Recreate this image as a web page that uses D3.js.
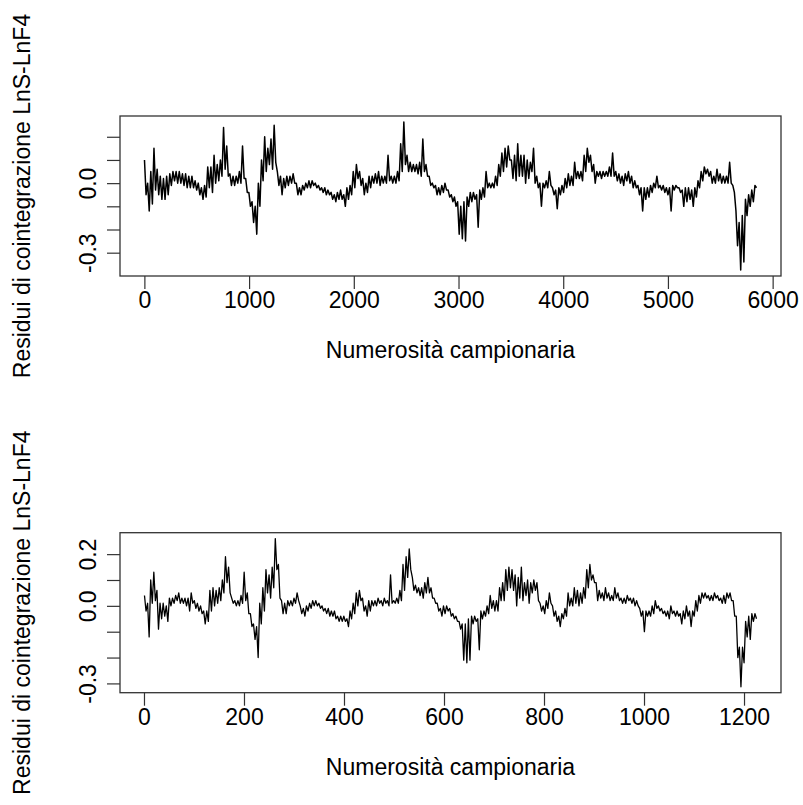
<!DOCTYPE html>
<html><head><meta charset="utf-8">
<script src="https://cdn.jsdelivr.net/npm/d3@7"></script>
<style>body{margin:0;background:#fff} svg{display:block}</style>
</head><body>
<script>
// ---------------- DATA ----------------
const topN = 5846;
const topValues = [
0.10,-0.05, 0.00,-0.12, 0.05,-0.09, 0.15,-0.03, 0.06,-0.05, 0.03,-0.07, 0.02,-0.07, 0.03,-0.05, 0.04,-0.01, 0.05,0.01,
0.05,0.00, 0.05,0.00, 0.04,-0.01, 0.04,-0.02, 0.03,-0.02, 0.03,-0.02, 0.01,-0.03, 0.00,-0.05, -0.02,-0.07, -0.01,-0.06,
0.07,-0.02, 0.07,-0.04, 0.12,0.00, 0.08,0.01, 0.10,0.03, 0.24,0.06, 0.16,0.03, 0.04,-0.01, 0.03,-0.01, 0.03,0.00,
0.05,0.00, 0.16,0.02, 0.02,-0.04, -0.04,-0.10, -0.08,-0.17, -0.10,-0.22, 0.00,-0.10, 0.10,0.01, 0.20,0.05, 0.15,0.08,
0.19,0.06, 0.25,0.09, 0.05,-0.01, 0.03,-0.05, 0.02,-0.02, 0.03,-0.01, 0.03,0.00, 0.04,0.00, 0.00,-0.05, -0.02,-0.05,
-0.01,-0.03, 0.00,-0.02, 0.01,-0.02, 0.01,-0.01, 0.00,-0.02, -0.01,-0.03, -0.02,-0.04, -0.02,-0.05, -0.03,-0.05, -0.04,-0.07,
-0.05,-0.08, -0.04,-0.07, -0.03,-0.07, -0.05,-0.10, -0.02,-0.07, -0.01,-0.05, 0.05,-0.02, 0.08,0.02, 0.05,-0.01, 0.02,-0.05,
0.00,-0.04, 0.03,-0.02, 0.03,0.00, 0.04,0.00, 0.05,-0.01, 0.03,0.00, 0.03,0.00, 0.12,0.01, 0.03,0.00, 0.03,0.00,
0.05,0.01, 0.17,0.05, 0.264,0.08, 0.12,0.05, 0.09,0.05, 0.08,0.05, 0.08,0.04, 0.09,0.03, 0.19,0.05, 0.08,0.03,
0.03,-0.01, 0.00,-0.02, -0.01,-0.05, -0.02,-0.05, -0.01,-0.04, 0.00,-0.03, -0.03,-0.06, -0.05,-0.08, -0.06,-0.10, -0.08,-0.22,
-0.10,-0.24,
-0.08,-0.25, -0.06,-0.10, -0.04,-0.08, -0.04,-0.07, -0.05,-0.19, -0.03,-0.07, -0.02,-0.06, 0.05,-0.02, 0.00,-0.02, 0.00,-0.02,
0.03,-0.01, 0.08,0.03, 0.13,0.05, 0.15,0.07, 0.16,0.10, 0.10,0.02, 0.12,0.01, 0.17,0.03, 0.12,0.03, 0.12,0.00,
0.10,0.02, 0.09,0.05, 0.15,0.00, 0.03,-0.02, 0.00,-0.10, 0.00,-0.02, 0.01,-0.02, 0.05,-0.01, -0.02,-0.05, -0.03,-0.11,
-0.02,-0.05, -0.01,-0.04, 0.02,-0.02, 0.04,-0.01, 0.03,-0.01, 0.09,0.02, 0.05,0.02, 0.05,0.01, 0.12,0.05, 0.15,0.09,
0.12,0.05, 0.08,0.00, 0.05,0.03, 0.05,0.02, 0.05,0.03, 0.05,0.03, 0.07,0.03, 0.13,0.03, 0.05,0.01, 0.04,0.00,
0.03,-0.01, 0.04,0.01, 0.05,0.00, 0.03,-0.02, 0.01,-0.02, -0.01,-0.05, -0.02,-0.12, -0.02,-0.07, -0.02,-0.06, -0.01,-0.04,
0.00,-0.02, 0.03,-0.02, -0.01,-0.03, -0.01,-0.04, -0.02,-0.05, -0.02,-0.12, -0.01,-0.03, -0.01,-0.02, -0.02,-0.04, -0.03,-0.10,
-0.02,-0.08, -0.02,-0.07, -0.03,-0.10, -0.02,-0.06, 0.01,-0.02, 0.05,0.01, 0.07,0.04, 0.06,0.03, 0.05,0.00, 0.03,0.00,
0.06,0.01, 0.04,0.00, 0.03,0.00, 0.03,0.00, 0.09,0.00, -0.01,-0.04, -0.12,-0.27, -0.17,-0.375, -0.14,-0.34, -0.07,-0.14,
-0.05,-0.10, -0.03,-0.08, -0.01,-0.02
];
const bottomN = 1225;
const bottomValues = [
0.04,-0.02, 0.01,-0.12, 0.10,0.01, 0.13,0.02, 0.06,-0.09, 0.01,-0.05, 0.01,-0.04, 0.00,-0.06, 0.03,0.00, 0.03,0.01,
0.04,0.02, 0.05,0.01, 0.03,0.01, 0.03,0.00, 0.03,-0.02, 0.05,0.01, 0.02,-0.01, 0.01,-0.02, 0.00,-0.03, -0.02,-0.07,
-0.02,-0.06, 0.06,-0.02, 0.07,0.00, 0.06,0.01, 0.07,0.02, 0.10,0.05, 0.19,0.09, 0.15,0.05, 0.03,0.01, 0.02,0.00,
0.02,0.00, 0.04,0.01, 0.13,0.02, 0.05,-0.03, -0.03,-0.08, -0.07,-0.13, -0.08,-0.20, 0.01,-0.07, 0.07,-0.02, 0.14,0.05,
0.12,0.03, 0.15,0.07, 0.26,0.14, 0.16,0.03, 0.02,-0.03, 0.01,-0.03, 0.02,0.00, 0.02,0.00, 0.03,0.01, 0.05,0.02,
0.00,-0.03, -0.01,-0.04, 0.00,-0.02, 0.01,-0.01, 0.02,0.00, 0.02,0.00, 0.01,-0.01, 0.00,-0.02, -0.01,-0.03, -0.01,-0.04,
-0.02,-0.04, -0.02,-0.05, -0.04,-0.06, -0.04,-0.06, -0.04,-0.06, -0.05,-0.08, -0.02,-0.05, 0.01,-0.03, 0.05,0.00, 0.06,0.02,
0.03,-0.02, 0.00,-0.04, 0.02,-0.02, 0.02,0.00, 0.02,0.00, 0.03,0.01, 0.02,0.00, 0.03,0.01, 0.02,0.00, 0.12,0.01,
0.02,0.01, 0.03,0.01, 0.06,0.02, 0.16,0.06, 0.19,0.11, 0.22,0.14, 0.11,0.06, 0.08,0.05, 0.07,0.04, 0.07,0.03,
0.09,0.05, 0.11,0.05, 0.07,0.03, 0.03,0.01, 0.01,-0.02, -0.01,-0.04, 0.00,-0.03, 0.00,-0.02, -0.01,-0.04, -0.03,-0.05,
-0.04,-0.06, -0.06,-0.09, -0.07,-0.21,
-0.07,-0.22, -0.05,-0.21, -0.04,-0.07, -0.04,-0.06, -0.05,-0.17, -0.02,-0.05, -0.02,-0.04, 0.00,-0.03, 0.04,-0.01, 0.02,-0.02,
0.02,-0.02, 0.07,0.02, 0.09,0.02, 0.14,0.06, 0.15,0.07, 0.14,0.06, 0.12,0.00, 0.11,0.03, 0.15,0.02, 0.09,0.04,
0.10,0.01, 0.09,0.05, 0.10,0.06, 0.09,0.02, 0.01,-0.02, 0.00,-0.03, 0.02,-0.01, 0.05,0.01, 0.00,-0.04, -0.02,-0.06,
-0.04,-0.08, -0.03,-0.05, -0.01,-0.04, 0.05,0.00, 0.03,0.00, 0.07,0.01, 0.06,0.00, 0.05,0.01, 0.07,0.03, 0.14,0.07,
0.16,0.10, 0.12,0.09, 0.09,0.02, 0.06,0.03, 0.05,0.02, 0.07,0.03, 0.05,0.02, 0.04,0.02, 0.07,0.03, 0.05,0.02,
0.03,0.01, 0.03,0.01, 0.04,0.02, 0.03,0.01, 0.03,0.00, 0.02,0.00, -0.01,-0.04, -0.02,-0.10, -0.02,-0.04, -0.02,-0.04,
0.00,-0.03, 0.02,-0.01, 0.00,-0.02, -0.01,-0.03, -0.02,-0.04, -0.02,-0.05, 0.00,-0.03, -0.02,-0.04, -0.02,-0.04, -0.03,-0.07,
-0.02,-0.05, 0.00,-0.04, -0.02,-0.08, -0.02,-0.04, 0.02,-0.02, 0.04,0.01, 0.05,0.03, 0.05,0.03, 0.04,0.02, 0.04,0.02,
0.05,0.03, 0.04,0.02, 0.03,0.01, 0.04,0.01, 0.05,0.03, 0.05,0.02, 0.02,-0.04, -0.04,-0.20, -0.16,-0.313, -0.16,-0.22,
-0.06,-0.12, -0.04,-0.13, -0.03,-0.06, -0.03,-0.05
];
const topXTicks = [0, 1000, 2000, 3000, 4000, 5000, 6000];
const bottomXTicks = [0, 200, 400, 600, 800, 1000, 1200];
const yTickValues = [-0.3, -0.2, -0.1, 0.0, 0.1, 0.2];
const topYLabels = ["-0.3", "", "", "0.0", "", ""];
const bottomYLabels = ["-0.3", "", "", "0.0", "", "0.2"];
const xTitle = "Numerosità campionaria";
const yTitle = "Residui di cointegrazione LnS-LnF4";

// ---------------- DRAW ----------------
const W = 803, H = 805;
const FONT = "'Liberation Sans', Arial, sans-serif";
const FS = 23;
const svg = d3.select("body").append("svg").attr("width", W).attr("height", H);

function panel(values, n, xTicks, yLabels, box, lw) {
  const g = svg.append("g");
  const pad = 0.04 * (n - 1);
  const x = d3.scaleLinear().domain([1 - pad, n + pad]).range([box.left, box.right]);
  const ext = d3.extent(values);
  const r = ext[1] - ext[0];
  const y = d3.scaleLinear().domain([ext[0] - 0.04 * r, ext[1] + 0.04 * r]).range([box.bottom, box.top]);
  const idx = i => 1 + i * (n - 1) / (values.length - 1);

  const line = d3.line().x((d, i) => x(idx(i))).y(d => y(d));
  g.append("path").datum(values).attr("d", line)
    .attr("fill", "none").attr("stroke", "#000").attr("stroke-width", lw)
    .attr("stroke-linejoin", "round");

  // x axis
  const xa = g.append("g").attr("transform", `translate(0,${box.bottom})`)
    .call(d3.axisBottom(x).tickValues(xTicks).tickSize(13).tickFormat(d3.format("d")));
  xa.select(".domain").remove();
  xa.selectAll(".tick line").attr("stroke", "#333").attr("stroke-width", 1.2);
  xa.selectAll(".tick text").attr("y", 24).attr("dy", "0.35em")
    .attr("font-family", FONT).attr("font-size", FS).attr("fill", "#000");

  // y axis
  const ya = g.append("g").attr("transform", `translate(${box.left},0)`)
    .call(d3.axisLeft(y).tickValues(yTickValues).tickSize(13).tickFormat((d, i) => yLabels[i]));
  ya.select(".domain").remove();
  ya.selectAll(".tick line").attr("stroke", "#333").attr("stroke-width", 1.2);
  ya.selectAll(".tick text").attr("x", null).attr("dy", null)
    .attr("transform", "translate(-32,0) rotate(-90)")
    .attr("text-anchor", "middle").attr("dominant-baseline", "central")
    .attr("font-family", FONT).attr("font-size", FS).attr("fill", "#000");

  // box
  g.append("rect").attr("x", box.left).attr("y", box.top)
    .attr("width", box.right - box.left).attr("height", box.bottom - box.top)
    .attr("fill", "none").attr("stroke", "#333").attr("stroke-width", 1.3);

  // titles
  g.append("text").attr("x", (box.left + box.right) / 2).attr("y", box.bottom + 74)
    .attr("text-anchor", "middle").attr("dominant-baseline", "central")
    .attr("font-family", FONT).attr("font-size", FS).attr("fill", "#000").text(xTitle);
  g.append("text")
    .attr("transform", `translate(22,${(box.top + box.bottom) / 2}) rotate(-90)`)
    .attr("text-anchor", "middle").attr("dominant-baseline", "central")
    .attr("font-family", FONT).attr("font-size", FS).attr("fill", "#000").text(yTitle);
}

panel(topValues, topN, topXTicks, topYLabels, {left: 120, right: 781, top: 116, bottom: 276}, 1.5);
panel(bottomValues, bottomN, bottomXTicks, bottomYLabels, {left: 120, right: 781, top: 532.7, bottom: 692.7}, 1.3);
</script>
</body></html>
